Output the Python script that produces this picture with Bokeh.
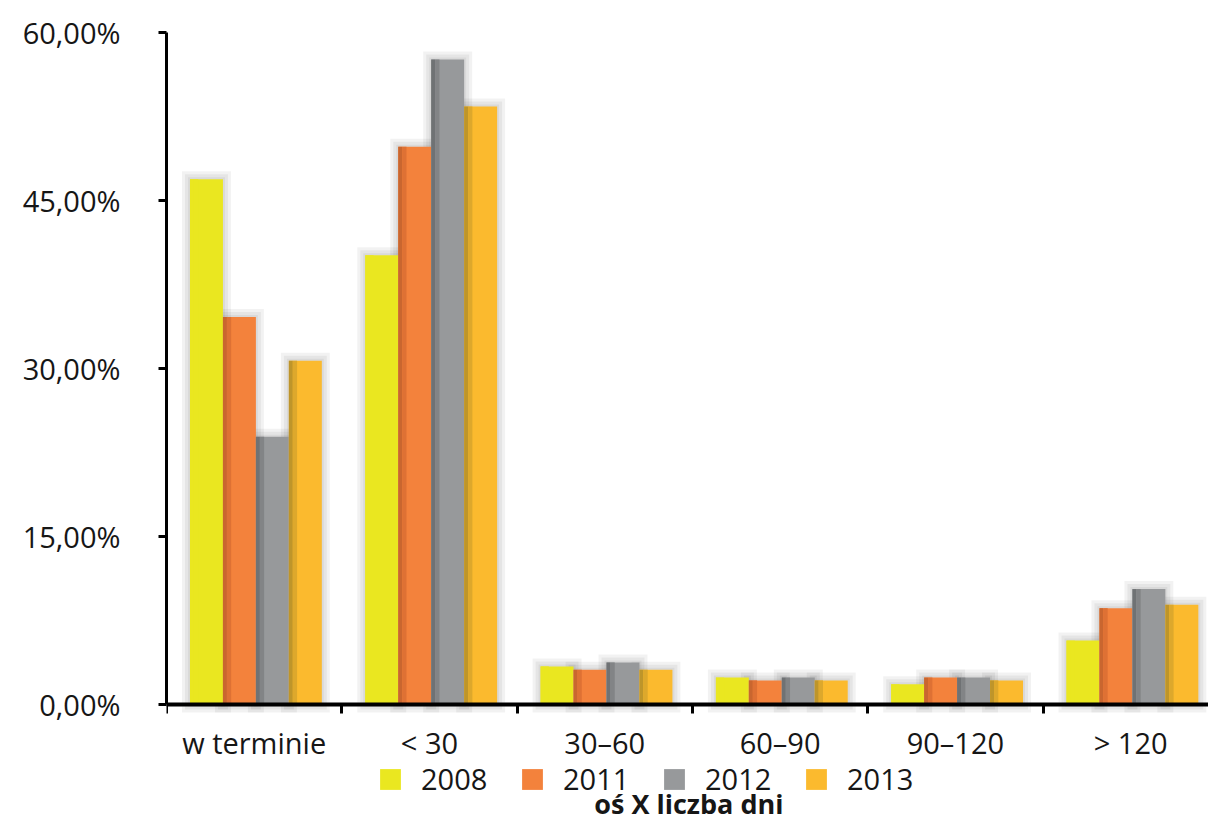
from bokeh.plotting import figure
from bokeh.models import FixedTicker, Legend, LegendItem, Label, Range1d, LinearAxis
from bokeh.core.properties import value
from bokeh.embed import file_html
from bokeh.resources import INLINE

categories = ["w terminie", "< 30", "30\u201360", "60\u201390", "90\u2013120", "> 120"]
years = ["2008", "2011", "2012", "2013"]
v2008 = [46.9, 40.1, 3.4, 2.4, 1.8, 5.7]
v2011 = [34.6, 49.8, 3.1, 2.15, 2.4, 8.6]
v2012 = [23.9, 57.6, 3.75, 2.4, 2.4, 10.3]
v2013 = [30.7, 53.4, 3.1, 2.15, 2.15, 8.9]
y_ticks = [0, 15, 30, 45, 60]
y_tick_labels = ["0,00%", "15,00%", "30,00%", "45,00%", "60,00%"]
x_title = "oś X liczba dni"

series = [v2008, v2011, v2012, v2013]
base_colors = ["#EAE720", "#F3823C", "#97999B", "#FBBA2E"]
edge_colors = ["#EAE720", "#C9662F", "#6F7274", "#BE952A"]
mid_colors = ["#EAE720", "#DE7134", "#828486", "#DDA82C"]

FONT = "Open Sans"
FS = "29px"
TXT = "#161616"

p = figure(width=1208, height=822, output_backend="svg", toolbar_location=None,
           x_range=Range1d(0, 5.944), y_range=Range1d(-10.54, 60),
           x_axis_location=None,
           min_border_left=166, min_border_right=0, min_border_top=32,
           min_border_bottom=0)
p.outline_line_color = None
p.grid.grid_line_color = None

bw = 0.188
offsets = [-1.5 * bw, -0.5 * bw, 0.5 * bw, 1.5 * bw]
px_x = 1 / 175.3
px_y = 60 / 672.0

for si, vals in enumerate(series):
    lefts = [i + 0.51 + offsets[si] - bw / 2 for i in range(len(categories))]
    rights = [l + bw for l in lefts]
    for k in (8, 5, 2):
        p.quad(left=[l - k * px_x for l in lefts], right=[r + k * px_x for r in rights],
               bottom=[-k * px_y] * len(vals), top=[v + k * px_y for v in vals],
               fill_color="#000000", fill_alpha=0.05, line_color=None)
legend_items = []
for si, vals in enumerate(series):
    lefts = [i + 0.51 + offsets[si] - bw / 2 for i in range(len(categories))]
    rights = [l + bw for l in lefts]
    r = p.quad(left=lefts, right=rights, bottom=[0] * len(vals), top=vals,
               fill_color=base_colors[si], line_color=None)
    p.quad(left=lefts, right=[l + bw * 0.12 for l in lefts], bottom=[0] * len(vals), top=vals,
           fill_color=edge_colors[si], line_color=None)
    p.quad(left=[l + bw * 0.12 for l in lefts], right=[l + bw * 0.25 for l in lefts],
           bottom=[0] * len(vals), top=vals,
           fill_color=mid_colors[si], line_color=None)
    legend_items.append(LegendItem(label=years[si], renderers=[r]))

yax = p.yaxis[0]
yax.ticker = FixedTicker(ticks=y_ticks, minor_ticks=[])
yax.major_label_overrides = {t: l for t, l in zip(y_ticks, y_tick_labels)}
yax.bounds = (0, 60)
yax.axis_line_width = 3
yax.axis_line_color = "black"
yax.major_tick_line_width = 3
yax.major_tick_out = 8
yax.major_tick_in = 0
yax.major_label_text_font = FONT
yax.major_label_text_font_size = FS
yax.major_label_text_color = TXT
yax.major_label_standoff = 38

# category axis drawn at value 0; ticks at the category boundaries, pointing down
bounds_ticks = list(range(len(categories) + 1))
xax = LinearAxis(fixed_location=0, ticker=FixedTicker(ticks=bounds_ticks, minor_ticks=[]),
                 axis_line_width=4, axis_line_color="black",
                 major_tick_in=9, major_tick_out=0, major_tick_line_width=3,
                 major_tick_line_color="black", minor_tick_in=0, minor_tick_out=0,
                 major_label_overrides={t: "" for t in bounds_ticks},
                 major_label_standoff=0)
p.add_layout(xax, "above")

centers = [i + 0.5 for i in range(len(categories))]
p.text(x=centers, y=[0] * len(centers), text=categories, text_align="center",
       text_baseline="middle", y_offset=38, text_font=value(FONT),
       text_font_size=FS, text_color=TXT)

legend = Legend(items=legend_items, orientation="horizontal", location=(211, 24),
                label_text_font=FONT, label_text_font_size=FS,
                label_text_color=TXT, glyph_width=26, glyph_height=26,
                label_standoff=18, spacing=22, padding=0, margin=0,
                border_line_color=None, background_fill_alpha=0,
                label_height=26, label_width=76)
p.add_layout(legend, "center")

lab = Label(x=2.98, y=19, y_units="screen", text=x_title, text_align="center",
            text_baseline="alphabetic", text_font=FONT, text_font_size="27px",
            text_font_style="bold", text_color=TXT)
p.add_layout(lab)

open("out.html", "w").write(file_html(p, INLINE))
